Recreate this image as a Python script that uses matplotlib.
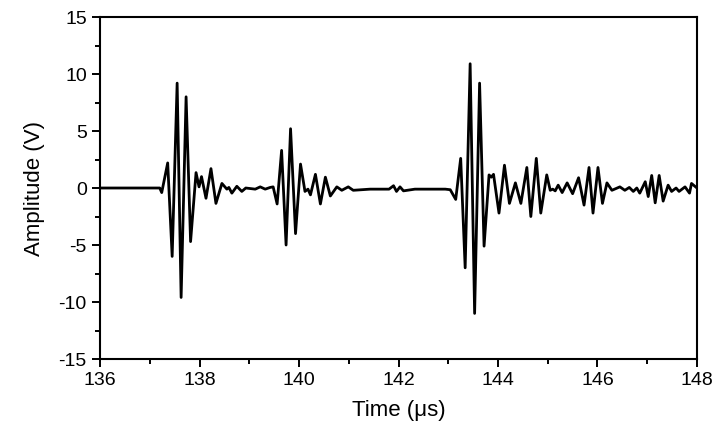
import matplotlib
matplotlib.use('Agg')
import matplotlib.pyplot as plt
from matplotlib.ticker import MultipleLocator

plt.rcParams['font.family'] = ['Liberation Sans', 'DejaVu Sans']
plt.rcParams['axes.unicode_minus'] = False

# waveform (extrema of the oscillations)
time_us = [136.00, 137.20, 137.24, 137.36, 137.45, 137.55, 137.63, 137.73, 137.82, 137.93,
           137.99, 138.04, 138.13, 138.23, 138.33, 138.45, 138.55, 138.59, 138.65, 138.75,
           138.85, 138.93, 139.12, 139.22, 139.32, 139.42, 139.48, 139.56, 139.65, 139.74,
           139.83, 139.93, 140.03, 140.12, 140.18, 140.23, 140.33, 140.43, 140.53, 140.63,
           140.76, 140.86, 140.99, 141.09, 141.43, 141.81, 141.90, 141.96, 142.03, 142.10,
           142.33, 142.63, 142.94, 143.04, 143.15, 143.25, 143.34, 143.44, 143.53, 143.63,
           143.72, 143.82, 143.865, 143.91, 144.02, 144.13, 144.23, 144.35, 144.46, 144.58,
           144.66, 144.77, 144.86, 144.98, 145.05, 145.10, 145.15, 145.21, 145.29, 145.39,
           145.50, 145.62, 145.73, 145.83, 145.91, 146.01, 146.10, 146.19, 146.29, 146.37,
           146.45, 146.55, 146.64, 146.72, 146.79, 146.85, 146.96, 147.02, 147.09, 147.16,
           147.24, 147.32, 147.42, 147.49, 147.58, 147.64, 147.76, 147.85, 147.89, 148.00]
amplitude_v = [0.0, 0.0, -0.4, 2.2, -6.0, 9.2, -9.6, 8.0, -4.7, 1.35,
               0.1, 1.0, -0.9, 1.7, -1.35, 0.4, -0.1, 0.05, -0.45, 0.15,
               -0.3, 0.0, -0.1, 0.1, -0.1, 0.05, 0.1, -1.4, 3.3, -5.0,
               5.2, -4.0, 2.1, -0.3, -0.1, -0.6, 1.2, -1.4, 0.95, -0.7,
               0.1, -0.2, 0.1, -0.2, -0.1, -0.1, 0.2, -0.3, 0.1, -0.25,
               -0.1, -0.1, -0.1, -0.15, -1.0, 2.6, -7.0, 10.9, -11.0, 9.2,
               -5.1, 1.15, 0.95, 1.2, -2.2, 2.0, -1.35, 0.45, -1.35, 1.8,
               -2.5, 2.6, -2.2, 1.15, -0.2, -0.1, -0.25, 0.25, -0.4, 0.45,
               -0.5, 0.9, -1.5, 1.8, -2.2, 1.8, -1.35, 0.45, -0.2, -0.05,
               0.1, -0.2, 0.05, -0.3, 0.0, -0.45, 0.55, -0.75, 1.1, -1.3,
               1.1, -1.15, 0.25, -0.3, 0.0, -0.3, 0.1, -0.45, 0.4, 0.0]

fig = plt.figure(figsize=(7.27, 4.33), dpi=100)
ax = fig.add_axes([0.1376, 0.1709, 0.8211, 0.7898])

ax.plot(time_us, amplitude_v, color='black', linewidth=2.0, solid_joinstyle='round')

ax.set_xlim(136, 148)
ax.set_ylim(-15, 15)
ax.xaxis.set_major_locator(MultipleLocator(2))
ax.xaxis.set_minor_locator(MultipleLocator(1))
ax.yaxis.set_major_locator(MultipleLocator(5))
ax.yaxis.set_minor_locator(MultipleLocator(2.5))
ax.tick_params(which='major', direction='out', length=6, width=1.4, labelsize=14)
ax.tick_params(which='minor', direction='out', length=3.5, width=1.4)
for s in ax.spines.values():
    s.set_linewidth(1.5)

ax.set_xlabel('Time (μs)', fontsize=16, labelpad=8)
ax.set_ylabel('Amplitude (V)', fontsize=16, labelpad=10)

fig.savefig('out.png', dpi=100)
